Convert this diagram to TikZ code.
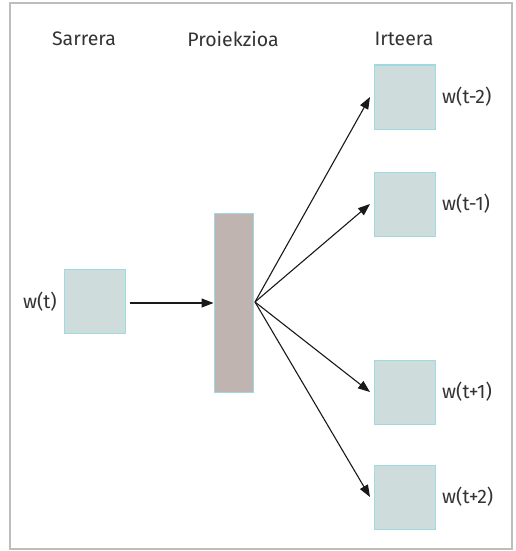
\documentclass[tikz,border=0pt]{standalone}
\usepackage{fontspec}
\setmainfont{Fira Sans}
\usetikzlibrary{arrows.meta}
\definecolor{boxfill}{HTML}{CEDCDC}
\definecolor{boxline}{HTML}{9FDAE2}
\definecolor{barfill}{HTML}{C0B4B0}
\definecolor{framecol}{HTML}{BDBDBD}
\definecolor{txt}{HTML}{333333}
\tikzset{
  wbox/.style={draw=boxline, fill=boxfill, line width=1pt, minimum width=61pt, minimum height=64pt, inner sep=0pt},
  projbar/.style={draw=boxline, fill=barfill, line width=1pt, minimum width=39pt, minimum height=179pt, inner sep=0pt},
  lbl/.style={text=txt, font=\fontsize{19.5}{22}\selectfont, inner sep=0pt},
  conn/.style={draw=black!90, line width=1.1pt, -{Triangle[length=12pt,width=9pt]}},
}
\begin{document}
\begin{tikzpicture}[x=1pt,y=-1pt]
\useasboundingbox (0,0) rectangle (516,551);
\draw[framecol, line width=1.2pt] (10,3) rectangle (512,549);
\node[lbl] (t1) at (84,39) {Sarrera};
\node[lbl] (t2) at (233,39) {Proiekzioa};
\node[lbl] (t3) at (404,39) {Irteera};
\node[wbox] (in) at (94.5,301.5) {};
\node[projbar] (proj) at (233.5,302.5) {};
\node[wbox] (o1) at (405,97) {};
\node[wbox] (o2) at (405,204) {};
\node[wbox] (o3) at (405,392) {};
\node[wbox] (o4) at (405,497) {};
\node[lbl, anchor=east] (lin) at (57,302) {w(t)};
\node[lbl, anchor=west] (l1) at (442,97) {w(t-2)};
\node[lbl, anchor=west] (l2) at (442,204) {w(t-1)};
\node[lbl, anchor=west] (l3) at (442,392) {w(t+1)};
\node[lbl, anchor=west] (l4) at (442,497) {w(t+2)};
\coordinate (hub) at (255,302);
\draw[conn] (130,303) -- (proj.west |- 0,303);
\draw[conn] (hub) -- ([xshift=-4pt]o1.west);
\draw[conn] (hub) -- ([xshift=-4pt]o2.west);
\draw[conn] (hub) -- ([xshift=-4pt]o3.west);
\draw[conn] (hub) -- ([xshift=-4pt]o4.west);
\end{tikzpicture}
\end{document}
